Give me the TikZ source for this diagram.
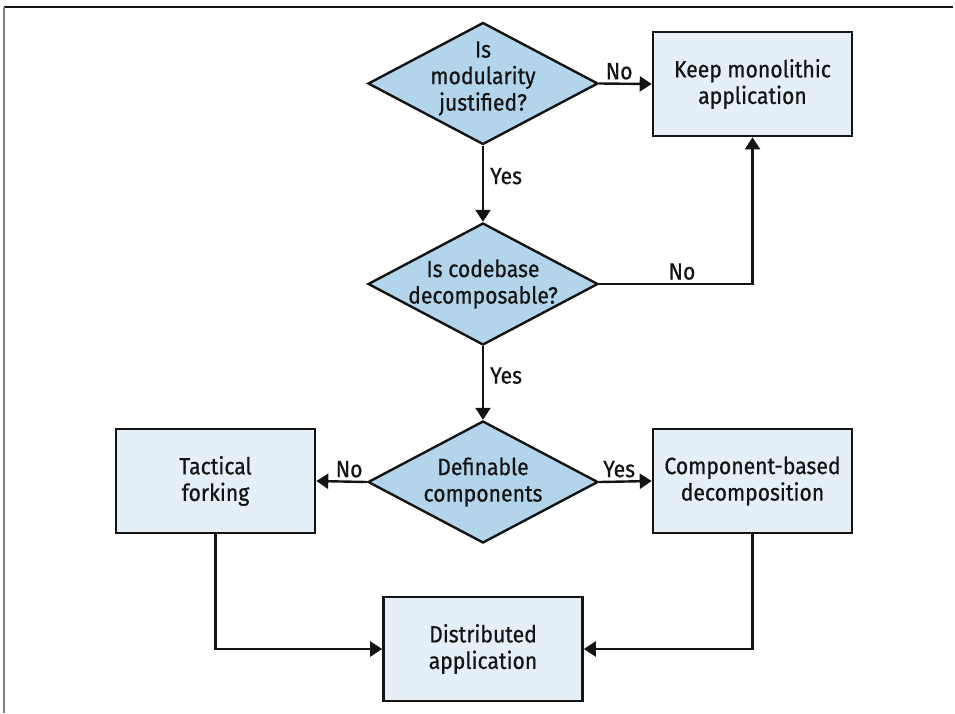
\documentclass[tikz,border=0pt]{standalone}
\usepackage{fontspec}
\setmainfont{Fira Sans}[FakeStretch=0.9, FakeBold=0.6]
\usetikzlibrary{shapes.geometric,arrows.meta}
\definecolor{decfill}{HTML}{B2D5EB}
\definecolor{boxfill}{HTML}{E4EFF8}
\definecolor{ink}{HTML}{141414}
\begin{document}
\begin{tikzpicture}[x=1pt,y=-1pt,
  every node/.style={font=\fontsize{23.5}{26.5}\selectfont, text=ink},
  decision/.style={diamond, draw=ink, fill=decfill, line width=2.4pt,
    minimum width=230pt, minimum height=122pt, inner sep=0pt},
  outcome/.style={rectangle, draw=ink, fill=boxfill, line width=2.6pt,
    minimum width=199pt, minimum height=104pt, align=center},
  conn/.style={draw=ink, line width=2.4pt, -{Triangle[length=12pt,width=15pt]}},
  edgelabel/.style={inner sep=3pt}]
\useasboundingbox (0,0) rectangle (955,713);

% frame edges
\draw[ink, line width=1.5pt] (4,7) -- (953,7);
\draw[gray, line width=1.2pt] (4,7) -- (4,713);

% decisions
\node[decision, label={[align=center, yshift=5pt]center:Is\\modularity\\justified?}] (d1) at (483,83.5) {};
\node[decision, label={[align=center]center:Is codebase\\decomposable?}] (d2) at (483,284) {};
\node[decision, label={[align=center]center:Definable\\components}] (d3) at (483,482) {};

% outcomes
\node[outcome] (keep) at (752.5,84) {Keep monolithic\\application};
\node[outcome] (tact) at (215.5,481) {Tactical\\forking};
\node[outcome] (comp) at (752.5,481) {Component-based\\decomposition};
\node[outcome] (dist) at (483,649) {Distributed\\application};

% connectors
\draw[conn] (d1.east) -- node[edgelabel, above, pos=0.38]{No} (keep.west);
\draw[conn] (d1.south) -- node[edgelabel, right=3pt, pos=0.4]{Yes} (d2.north);
\draw[conn] (d2.east) -| node[edgelabel, above, pos=0.27]{No} (keep.south);
\draw[conn] (d2.south) -- node[edgelabel, right=3pt, pos=0.4]{Yes} (d3.north);
\draw[conn] (d3.west) -- node[edgelabel, above, pos=0.35]{No} (tact.east);
\draw[conn] (d3.east) -- node[edgelabel, above, pos=0.38]{Yes} (comp.west);
\draw[conn] (tact.south) |- (dist.west);
\draw[conn] (comp.south) |- (dist.east);
\end{tikzpicture}
\end{document}
